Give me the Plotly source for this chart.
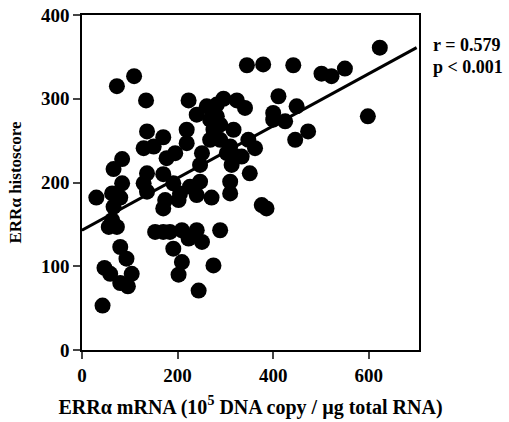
import plotly.graph_objects as go

mrna = [30, 43, 47, 59, 73, 109, 134, 66, 84, 63, 84, 80, 66, 63, 56, 73, 80, 93, 104, 80, 96,
        136, 129, 150, 170, 136, 129, 136, 170, 177, 195, 153, 170, 184, 174, 170, 191, 209, 202,
        209, 223, 240, 251, 244, 275, 289, 223, 219, 219, 240, 251, 247, 191, 205, 202, 226, 240,
        247, 271, 261, 282, 268, 282, 275, 289, 268, 289, 296, 324, 341, 317, 310, 303, 324, 334,
        310, 310, 313, 351, 345, 379, 348, 362, 376, 386, 400, 400, 411, 425, 442, 449, 446, 473,
        501, 522, 550, 598, 623]
histoscore = [182, 53, 98, 91, 315, 327, 298, 216, 228, 187, 199, 182, 171, 155, 147, 147, 123, 109,
              91, 80, 76, 261, 241, 243, 254, 211, 199, 189, 210, 229, 235, 141, 141, 141, 179, 169,
              121, 105, 90, 143, 133, 143, 129, 71, 101, 143, 298, 263, 247, 281, 235, 221, 199, 187,
              179, 195, 185, 201, 182, 291, 293, 275, 279, 263, 269, 251, 251, 300, 298, 289, 263, 243,
              235, 231, 231, 201, 187, 221, 211, 340, 341, 251, 241, 173, 169, 283, 275, 303, 273, 340,
              291, 251, 261, 330, 327, 336, 279, 361]

fit_x = [0, 700]
fit_y = [143, 361]

x_ticks = [0, 200, 400, 600]
y_ticks = [0, 100, 200, 300, 400]

font = "Liberation Serif"
tick_font = dict(family=font, size=19, color="black", weight="bold")

fig = go.Figure()
fig.add_trace(go.Scatter(x=mrna, y=histoscore, mode="markers",
                         marker=dict(color="black", size=16, line=dict(width=0)),
                         showlegend=False, cliponaxis=False))
fig.add_trace(go.Scatter(x=fit_x, y=fit_y, mode="lines",
                         line=dict(color="black", width=3), showlegend=False))

fig.update_layout(
    width=509, height=422,
    margin=dict(l=82, r=90, t=15, b=72),
    paper_bgcolor="white", plot_bgcolor="white",
    font=dict(family=font, color="black"),
    xaxis=dict(range=[0, 705], tickvals=x_ticks, ticks="outside", ticklen=7, tickwidth=1.5,
               showline=True, linecolor="black", linewidth=1.5, mirror=True, showgrid=False,
               zeroline=False, tickfont=tick_font, automargin=False, ticklabeloverflow="allow",
               title=dict(text="ERRα mRNA (10<sup>5</sup> DNA copy / µg total RNA)",
                          font=dict(family=font, size=20, color="black", weight="bold"))),
    yaxis=dict(range=[0, 400], tickvals=y_ticks, ticks="outside", ticklen=7, tickwidth=1.5,
               showline=True, linecolor="black", linewidth=1.5, mirror=True, showgrid=False,
               zeroline=False, tickfont=tick_font, automargin=False, ticklabeloverflow="allow",
               title=dict(text="ERRα histoscore",
                          font=dict(family=font, size=17, color="black", weight="bold"))),
)

fig.add_annotation(x=1.035, y=0.91, xref="paper", yref="paper", xanchor="left", yanchor="middle",
                   text="r = 0.579", showarrow=False,
                   font=dict(family=font, size=18, color="black", weight="bold"))
fig.add_annotation(x=1.035, y=0.845, xref="paper", yref="paper", xanchor="left", yanchor="middle",
                   text="p < 0.001", showarrow=False,
                   font=dict(family=font, size=18, color="black", weight="bold"))

# remove the default page margin so the figure fills the window exactly
fig.write_html("out.html", config={"displayModeBar": False},
               post_script="document.body.style.margin='0';")
